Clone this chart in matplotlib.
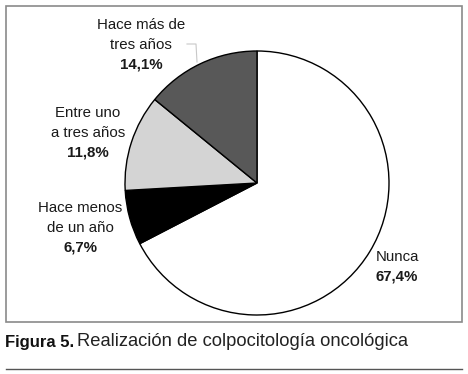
import matplotlib
matplotlib.use("Agg")
import matplotlib.pyplot as plt
from matplotlib import font_manager as fm

categories = ["Nunca", "Hace menos\nde un año", "Entre uno\na tres años", "Hace más de\ntres años"]
values = [67.4, 6.7, 11.8, 14.1]
pct_labels = ["67,4%", "6,7%", "11,8%", "14,1%"]
colors = ["#ffffff", "#000000", "#d4d4d4", "#585858"]
caption_bold = "Figura 5."
caption_text = "Realización de colpocitología oncológica"

W, H = 468, 374
fig = plt.figure(figsize=(W / 100, H / 100), dpi=100)
fig.patch.set_facecolor("white")

names = {f.name for f in fm.fontManager.ttflist}
base_font = "Liberation Sans" if "Liberation Sans" in names else "DejaVu Sans"

# overlay axes in pixel coordinates
ov = fig.add_axes([0, 0, 1, 1])
ov.set_xlim(0, W)
ov.set_ylim(H, 0)
ov.axis("off")

# frame box
ov.add_patch(plt.Rectangle((6, 6), 456, 316, fill=False, edgecolor="#8a8a8a", lw=1.2, zorder=1))
# bottom rule
ov.plot([6, 462], [369, 369], color="#555555", lw=1.0)

# pie
cx, cy, r = 257, 183, 132
pax = fig.add_axes([(cx - r) / W, (H - cy - r) / H, 2 * r / W, 2 * r / H])
pax.pie(values, colors=colors, startangle=90, counterclock=False,
        wedgeprops=dict(edgecolor="black", linewidth=1.0), radius=1)
pax.set_xlim(-1, 1)
pax.set_ylim(-1, 1)
pax.set_aspect("equal")
pax.axis("off")

fs = 10.8
label_pos = [(376, 257, "left"), (80, 208, "center"), (88, 113, "center"), (141, 25, "center")]
line_gap = 19.5
for cat, pct, (x, y, ha) in zip(categories, pct_labels, label_pos):
    lines = cat.split("\n")
    for i, ln in enumerate(lines):
        ov.text(x, y + i * line_gap, ln, ha=ha, va="center", fontsize=fs,
                family=base_font, color="#1a1a1a")
    ov.text(x, y + len(lines) * line_gap, pct, ha=ha, va="center", fontsize=fs,
            family=base_font, fontweight="bold", color="#1a1a1a")

# leader line for top label
ov.plot([187, 196, 197], [44, 44, 62], color="#c8c8c8", lw=0.8)

# caption
ov.text(5, 342, caption_bold, ha="left", va="center", fontweight="bold",
        family=base_font, fontsize=12, color="#111111")
ov.text(77, 342, caption_text, ha="left", va="center", fontsize=13.2, family=base_font,
        color="#222222")

fig.savefig("out.png", dpi=100, facecolor="white")
